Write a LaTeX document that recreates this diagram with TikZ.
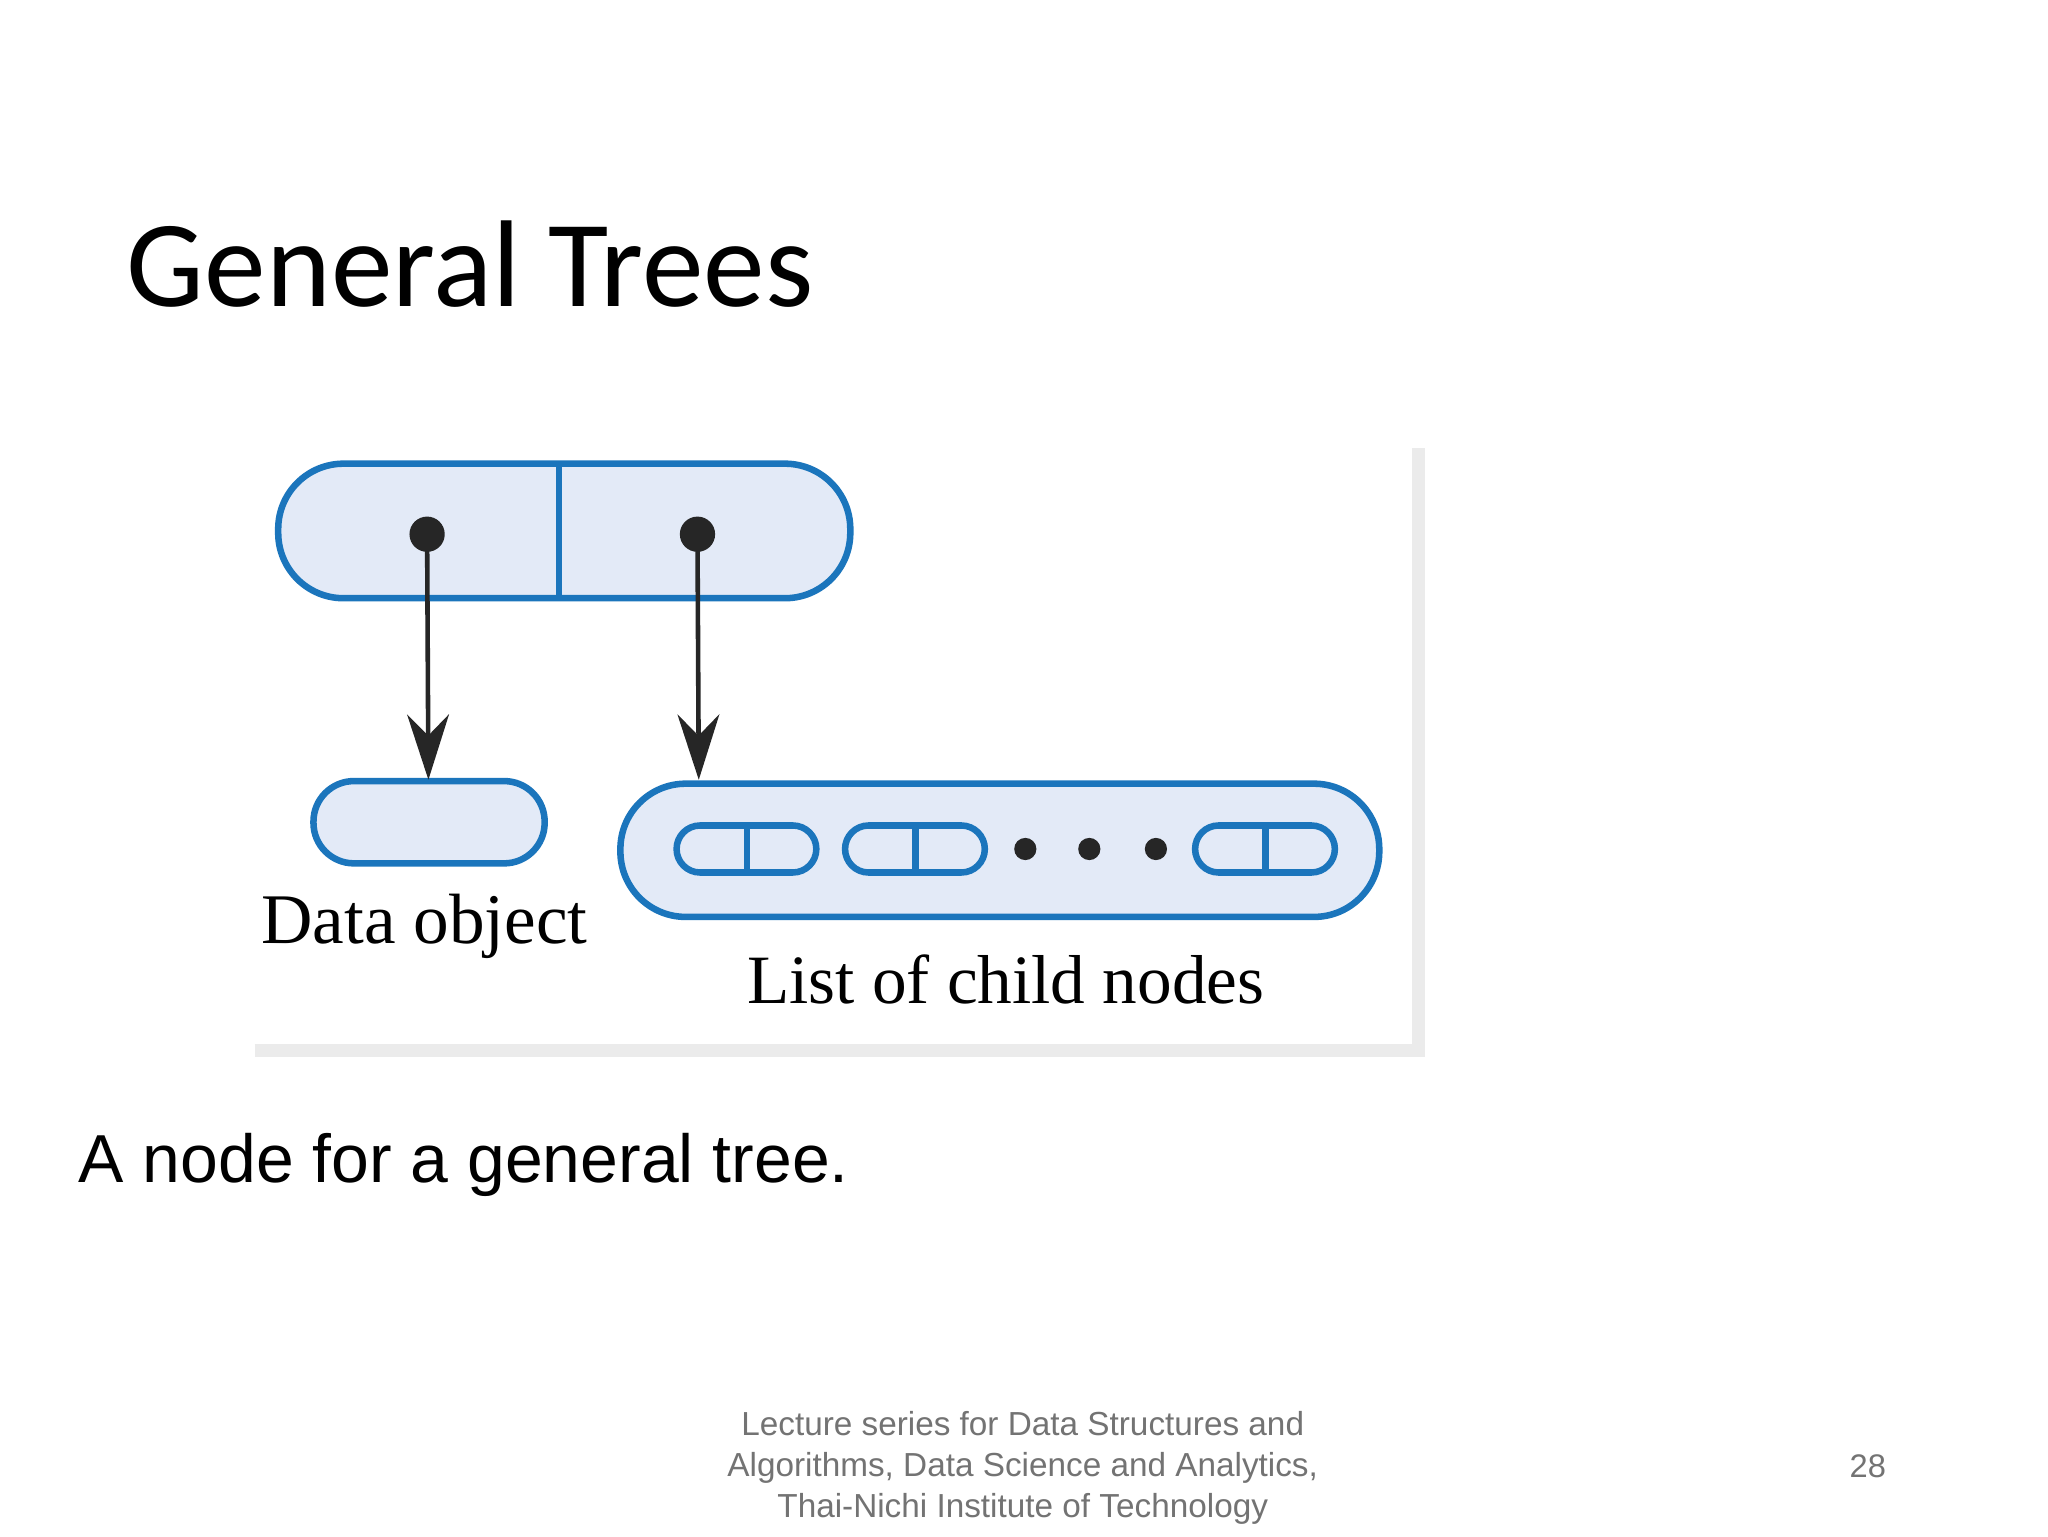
\documentclass[tikz,border=0pt]{standalone}
\usepackage{fontspec}
\setmainfont{Liberation Serif}
\newfontfamily\titlefont{Carlito}
\newfontfamily\arialfont{Liberation Sans}
\usetikzlibrary{arrows.meta}
\definecolor{pblue}{HTML}{1B75BC}
\definecolor{pfill}{HTML}{E3EAF7}
\tikzset{
  pill/.style={draw=pblue,fill=pfill,line width=5pt,rounded corners=#1},
  dotn/.style={circle,fill=black!85,inner sep=0pt,minimum size=#1},
  arr/.style={line width=3.5pt,draw=black!85,-{Stealth[length=50pt,width=32pt]}},
  txt/.style={anchor=base west,inner sep=0pt}
}
\begin{document}
\begin{tikzpicture}[x=1pt,y=-1pt]
\useasboundingbox[fill=white] (0,0) rectangle (1568,1176);
\draw[black!8,line width=10pt] (195,804) -- (1086,804) -- (1086,343);
\node[txt] (title) at (97,235) {\titlefont\fontsize{94.5}{100}\selectfont General Trees};
\draw[pill=50pt] (213,355) rectangle (651,458);
\draw[pblue,line width=5pt] (428,355) -- (428,458);
\node[dotn=27pt] (d1) at (327,409) {};
\node[dotn=27pt] (d2) at (534,409) {};
\draw[pill=31pt] (240,598) rectangle (417,661);
\coordinate (t1) at (328,597);
\coordinate (t2) at (535,597);
\draw[arr] (d1.center) -- (t1);
\draw[arr] (d2.center) -- (t2);
\draw[pill=50pt] (475,600) rectangle (1056,702);
\foreach \a/\m in {518/572,647/701,915/969}{
  \draw[pill=18pt] (\a,632) rectangle (\a+107,668);
  \draw[pblue,line width=5pt] (\m,632) -- (\m,668);
}
\foreach \x/\n in {785/e1,834/e2,885/e3}{\node[dotn=17pt] (\n) at (\x,650) {};}
\node[txt] (lab1) at (200,722) {\fontsize{54.5}{60}\selectfont Data object};
\node[anchor=base,inner sep=0pt] (lab2) at (770,768) {\fontsize{53}{60}\selectfont List of child nodes};
\node[txt] (cap) at (60,905) {\arialfont\fontsize{52}{60}\selectfont A node for a general tree.};
\node[align=center,text=black!55,inner sep=0pt,anchor=north,font=\arialfont\fontsize{25.5}{31.5}\selectfont] (foot) at (783,1080) {Lecture series for Data Structures and\\ Algorithms, Data Science and Analytics,\\ Thai-Nichi Institute of Technology};
\node[anchor=base,text=black!55,inner sep=0pt] (pg) at (1430,1131) {\arialfont\fontsize{25}{30}\selectfont 28};
\end{tikzpicture}
\end{document}
